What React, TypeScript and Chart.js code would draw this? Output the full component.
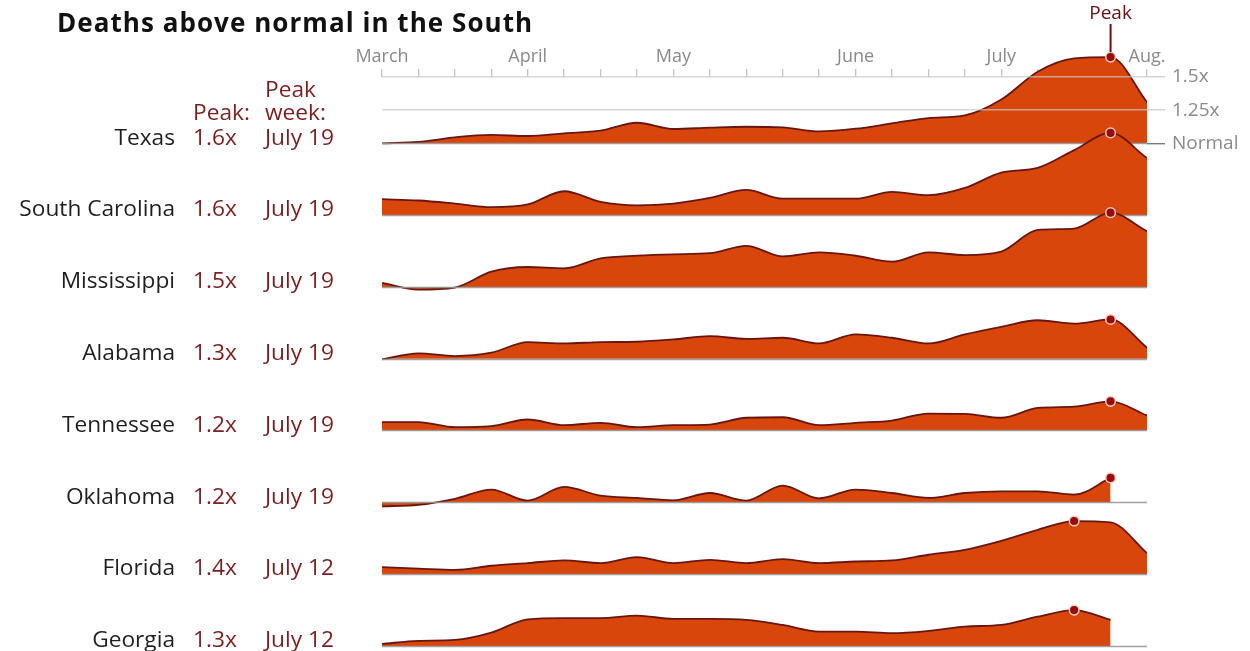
import React, { useEffect, useRef } from 'react';
import { Chart, registerables } from 'chart.js';

Chart.register(...registerables);

// ---------- data ----------
const WEEKS = [0, 1, 2, 3, 4, 5, 6, 7, 8, 9, 10, 11, 12, 13, 14, 15, 16, 17, 18, 19, 20, 21];
const MONTH_WEEKS = [0, 4, 8, 13, 17, 21];
const MONTH_LABELS = ['March', 'April', 'May', 'June', 'July', 'Aug.'];
const Y_TICKS = [1, 1.25, 1.5];
const Y_TICK_LABELS = ['Normal', '1.25x', '1.5x'];

const STATES = ['Texas', 'South Carolina', 'Mississippi', 'Alabama', 'Tennessee', 'Oklahoma', 'Florida', 'Georgia'];
const PEAK_RATIO = ['1.6x', '1.6x', '1.5x', '1.3x', '1.2x', '1.2x', '1.4x', '1.3x'];
const PEAK_WEEK = ['July 19', 'July 19', 'July 19', 'July 19', 'July 19', 'July 19', 'July 12', 'July 12'];

const TEXAS = [1.0, 1.01, 1.045, 1.063, 1.055, 1.075, 1.095, 1.155, 1.108, 1.118, 1.125, 1.12, 1.09, 1.11, 1.15, 1.19, 1.21, 1.33, 1.54, 1.64, 1.65, 1.31];
const SOUTH_CAROLINA = [1.12, 1.11, 1.087, 1.06, 1.08, 1.18, 1.1, 1.074, 1.087, 1.13, 1.19, 1.124, 1.124, 1.124, 1.175, 1.15, 1.205, 1.32, 1.356, 1.49, 1.62, 1.43];
const MISSISSIPPI = [1.03, 0.98, 0.995, 1.115, 1.15, 1.14, 1.215, 1.236, 1.246, 1.254, 1.31, 1.23, 1.26, 1.235, 1.19, 1.26, 1.24, 1.266, 1.43, 1.44, 1.56, 1.42];
const ALABAMA = [0.995, 1.04, 1.02, 1.045, 1.125, 1.115, 1.125, 1.128, 1.145, 1.17, 1.15, 1.158, 1.115, 1.183, 1.158, 1.115, 1.183, 1.24, 1.29, 1.264, 1.296, 1.083];
const TENNESSEE = [1.063, 1.063, 1.025, 1.033, 1.083, 1.04, 1.058, 1.025, 1.04, 1.045, 1.096, 1.1, 1.04, 1.058, 1.075, 1.128, 1.126, 1.096, 1.17, 1.18, 1.22, 1.113];
const OKLAHOMA = [0.97, 0.98, 1.026, 1.096, 1.013, 1.116, 1.05, 1.033, 1.015, 1.07, 1.013, 1.126, 1.03, 1.096, 1.07, 1.033, 1.07, 1.083, 1.083, 1.058, 1.184];
const FLORIDA = [1.053, 1.042, 1.032, 1.063, 1.083, 1.103, 1.083, 1.128, 1.083, 1.108, 1.083, 1.113, 1.083, 1.095, 1.103, 1.146, 1.183, 1.25, 1.334, 1.4, 1.39, 1.158];
const GEORGIA = [1.015, 1.038, 1.045, 1.1, 1.2, 1.21, 1.21, 1.228, 1.204, 1.204, 1.196, 1.158, 1.108, 1.108, 1.096, 1.113, 1.146, 1.158, 1.22, 1.27, 1.196];

const SERIES = [TEXAS, SOUTH_CAROLINA, MISSISSIPPI, ALABAMA, TENNESSEE, OKLAHOMA, FLORIDA, GEORGIA];

// ---------- layout & style ----------
const W = 1250;
const H = 651;
const PLOT_LEFT = 382;
const PLOT_RIGHT = 1147;
const PLOT_TOP = 20;
const AXIS_BOTTOM = 77;
const ROW0 = 143.3;
const ROW_GAP = 71.8;
const PX_PER_UNIT = 132.6;

const FONT = "'Open Sans', 'Noto Sans', sans-serif";
const FILL = '#d8460b';
const LINE = '#6b1510';
const DOT = '#9a0a0c';
const DOT_RING = '#f2cdbf';
const BASE = 'rgba(150,150,150,0.9)';
const DARK_RED = '#7a1e1e';
const GREY_TEXT = '#8a8a8a';

const ridgePlugin = {
  id: 'ridge',
  afterDatasetDraw(chart: any, args: any) {
    const { ctx, chartArea } = chart;
    const scale = chart.scales['y' + args.index];
    if (!scale) return;
    const y = Math.round(scale.getPixelForValue(1)) + 0.5;
    ctx.save();
    ctx.strokeStyle = BASE;
    ctx.lineWidth = 1.5;
    ctx.beginPath();
    ctx.moveTo(chartArea.left, y);
    ctx.lineTo(chartArea.right, y);
    ctx.stroke();
    ctx.restore();
  },
  afterDatasetsDraw(chart: any) {
    const values = SERIES[0];
    const peak = values.indexOf(Math.max(...values));
    const meta = chart.getDatasetMeta(0);
    const pt = meta && meta.data[peak];
    if (!pt) return;
    const { ctx } = chart;
    ctx.save();
    ctx.strokeStyle = '#6a1010';
    ctx.lineWidth = 2;
    ctx.beginPath();
    ctx.moveTo(pt.x, 24);
    ctx.lineTo(pt.x, pt.y - 5);
    ctx.stroke();
    ctx.fillStyle = '#6a1010';
    ctx.font = `19px ${FONT}`;
    ctx.textAlign = 'center';
    ctx.textBaseline = 'middle';
    ctx.fillText('Peak', pt.x, 14);
    ctx.restore();
  },
};

const noPad = (s: any) => {
  s.paddingTop = 0;
  s.paddingBottom = 0;
};

export default function App() {
  const axisRef = useRef<HTMLCanvasElement>(null);
  const plotRef = useRef<HTMLCanvasElement>(null);

  useEffect(() => {
    const axisChart = new Chart(axisRef.current as HTMLCanvasElement, {
      type: 'line',
      data: { datasets: [] },
      options: {
        animation: false,
        responsive: false,
        events: [],
        layout: { autoPadding: false, padding: { left: PLOT_LEFT, right: W - PLOT_RIGHT, top: 0, bottom: 0 } },
        plugins: { legend: { display: false }, tooltip: { enabled: false } },
        scales: {
          x: {
            type: 'linear',
            position: 'top',
            min: WEEKS[0],
            max: WEEKS[WEEKS.length - 1],
            afterBuildTicks: (s: any) => {
              s.ticks = WEEKS.map((v) => ({ value: v }));
            },
            afterFit: (s: any) => {
              s.height = AXIS_BOTTOM;
              s.paddingLeft = 0;
              s.paddingRight = 0;
            },
            grid: { drawOnChartArea: false, drawTicks: true, tickLength: 8, color: '#c4c4c4', lineWidth: 1.3 },
            border: { display: false },
            ticks: {
              autoSkip: false,
              maxRotation: 0,
              padding: 1,
              color: GREY_TEXT,
              font: { family: FONT, size: 18 },
              callback: (v: any) => {
                const i = MONTH_WEEKS.indexOf(Number(v));
                return i >= 0 ? MONTH_LABELS[i] : '';
              },
            },
          },
          y: { display: false, min: 0, max: 1 },
        },
      } as any,
    });

    const scales: any = {
      x: { type: 'linear', min: WEEKS[0], max: WEEKS[WEEKS.length - 1], display: false },
    };
    STATES.forEach((_, i) => {
      const base = ROW0 + ROW_GAP * i;
      const max = 1 + (base - PLOT_TOP) / PX_PER_UNIT;
      const min = 1 - (H - base) / PX_PER_UNIT;
      if (i === 0) {
        scales['y0'] = {
          type: 'linear',
          position: 'right',
          min,
          max,
          afterBuildTicks: (s: any) => {
            s.ticks = Y_TICKS.map((v) => ({ value: v }));
          },
          afterFit: (s: any) => {
            s.width = W - PLOT_RIGHT;
            noPad(s);
          },
          grid: {
            z: 1,
            drawOnChartArea: true,
            drawTicks: true,
            tickLength: 18,
            lineWidth: 1.4,
            color: (c: any) => (c.tick && c.tick.value === 1 ? 'rgba(0,0,0,0)' : 'rgba(200,200,200,0.7)'),
            tickColor: (c: any) => (c.tick && c.tick.value === 1 ? '#7a7a7a' : '#d2d2d2'),
          },
          border: { display: false },
          ticks: {
            padding: 7,
            color: GREY_TEXT,
            font: { family: FONT, size: 19 },
            callback: (v: any) => {
              const k = Y_TICKS.indexOf(Number(v));
              return k >= 0 ? Y_TICK_LABELS[k] : '';
            },
          },
        };
      } else {
        scales['y' + i] = { type: 'linear', display: false, min, max, afterFit: noPad };
      }
    });

    const datasets = STATES.map((name, i) => {
      const values = SERIES[i];
      const peak = values.indexOf(Math.max(...values));
      return {
        label: name,
        data: values.map((v, k) => ({ x: WEEKS[k], y: v })),
        yAxisID: 'y' + i,
        order: STATES.length - 1 - i,
        fill: { value: 1 },
        backgroundColor: FILL,
        borderColor: LINE,
        borderWidth: 1.8,
        cubicInterpolationMode: 'monotone',
        pointRadius: values.map((_, k) => (k === peak ? 4.8 : 0)),
        pointBackgroundColor: DOT,
        pointBorderColor: DOT_RING,
        pointBorderWidth: 1.5,
      };
    });

    const plotChart = new Chart(plotRef.current as HTMLCanvasElement, {
      type: 'line',
      data: { datasets } as any,
      options: {
        animation: false,
        responsive: false,
        events: [],
        layout: { autoPadding: false, padding: { left: PLOT_LEFT, right: 0, top: PLOT_TOP, bottom: 0 } },
        plugins: { legend: { display: false }, tooltip: { enabled: false } },
        scales,
      } as any,
      plugins: [ridgePlugin as any],
    });

    return () => {
      axisChart.destroy();
      plotChart.destroy();
    };
  }, []);

  const textBase: React.CSSProperties = {
    position: 'absolute',
    whiteSpace: 'nowrap',
    lineHeight: 1.2,
    transform: 'translateY(-50%)',
    fontSize: 22.7,
  };

  return (
    <div
      style={{
        position: 'absolute',
        left: 0,
        top: 0,
        width: W,
        height: H,
        background: '#ffffff',
        fontFamily: FONT,
        overflow: 'hidden',
      }}
    >
      <canvas ref={axisRef} width={W} height={H} style={{ position: 'absolute', left: 0, top: 0 }} />
      <canvas ref={plotRef} width={W} height={H} style={{ position: 'absolute', left: 0, top: 0 }} />
      <div
        style={{
          ...textBase,
          left: 57,
          top: 22.5,
          fontSize: 26,
          fontWeight: 700,
          letterSpacing: 1.05,
          color: '#111',
        }}
      >
        Deaths above normal in the South
      </div>
      <div style={{ ...textBase, left: 265, top: 88.5, color: DARK_RED }}>Peak</div>
      <div style={{ ...textBase, left: 193, top: 111.5, color: DARK_RED }}>Peak:</div>
      <div style={{ ...textBase, left: 265, top: 111.5, color: DARK_RED }}>week:</div>
      {STATES.map((name, i) => {
        const cy = ROW0 + ROW_GAP * i - 6.7;
        return (
          <React.Fragment key={name}>
            <div style={{ ...textBase, left: 0, width: 175, textAlign: 'right', top: cy, color: '#1e1e1e' }}>{name}</div>
            <div style={{ ...textBase, left: 193, top: cy, color: DARK_RED }}>{PEAK_RATIO[i]}</div>
            <div style={{ ...textBase, left: 265, top: cy, color: DARK_RED }}>{PEAK_WEEK[i]}</div>
          </React.Fragment>
        );
      })}
    </div>
  );
}
